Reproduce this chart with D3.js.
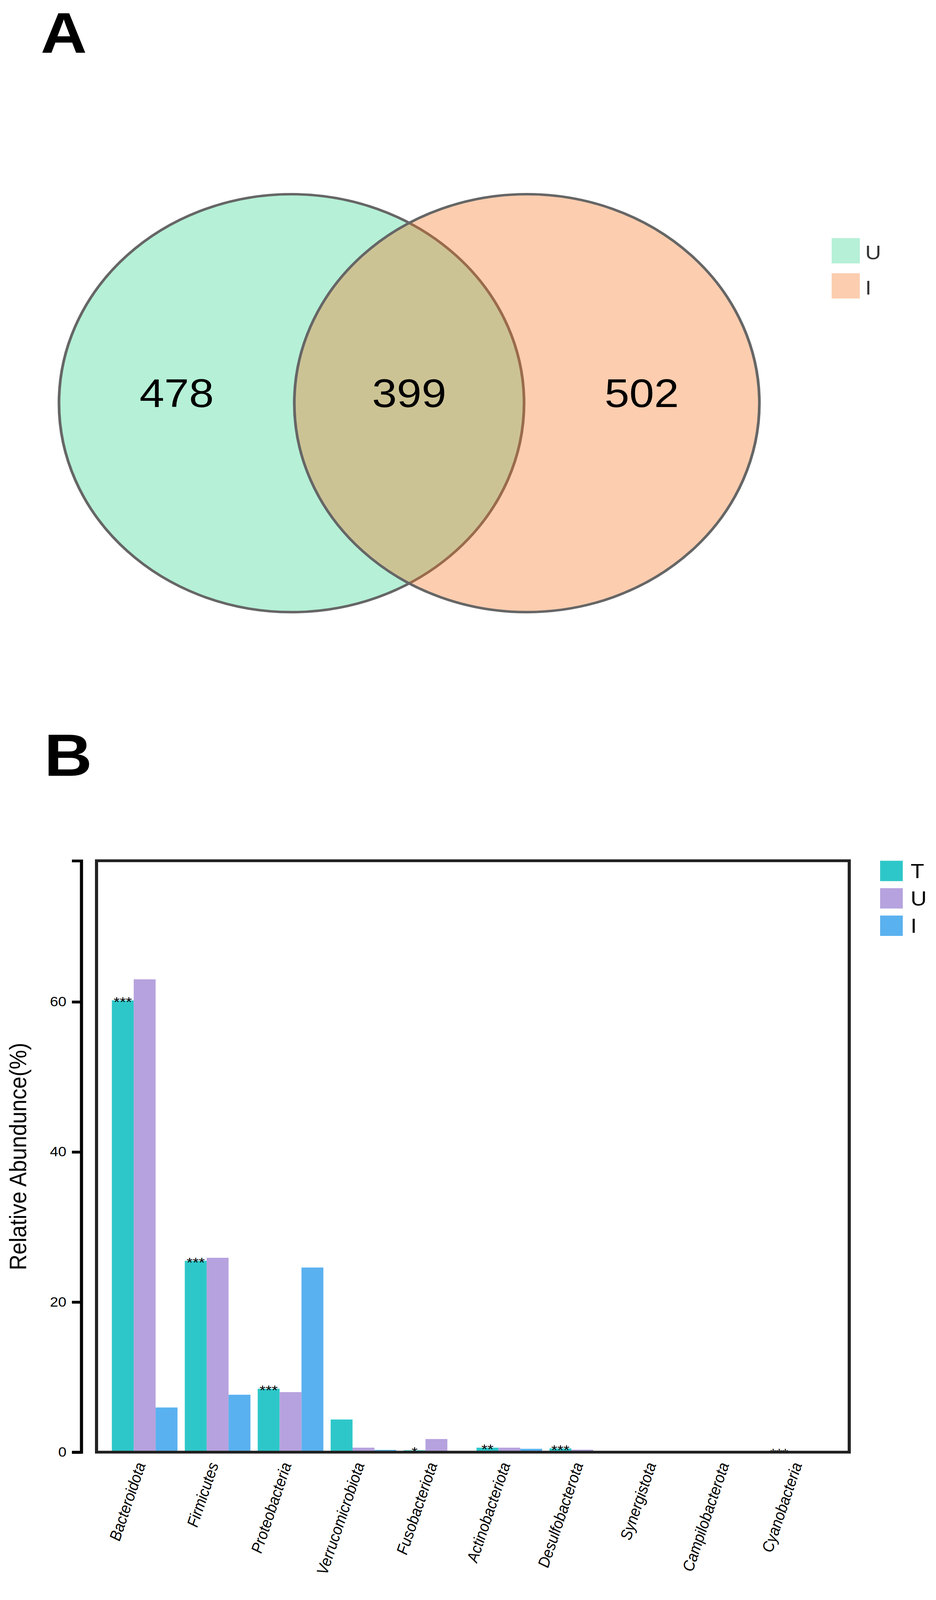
<!DOCTYPE html>
<html>
<head>
<meta charset="utf-8">
<script src="https://cdn.jsdelivr.net/npm/d3@7"></script>
<style>
  html, body { margin: 0; padding: 0; background: #fff; overflow: hidden; }
  svg { display: block; width: 100vw; height: 100vh; font-family: "Liberation Sans", Arial, sans-serif; }
</style>
</head>
<body>
<svg id="fig" viewBox="0 0 2395 4556" preserveAspectRatio="none"></svg>
<script>
// ---- panel A data
const vennSets = ["U", "I"];
const vennCounts = [478, 399, 502];   // only U, shared, only I
const vennColors = ["#b5f0d7", "#f77521"];

// ---- panel B data
const phyla = ["Bacteroidota", "Firmicutes", "Proteobacteria", "Verrucomicrobiota",
  "Fusobacteriota", "Actinobacteriota", "Desulfobacterota", "Synergistota",
  "Campilobacterota", "Cyanobacteria"];
const groups = ["T", "U", "I"];
const valT = [60.2, 25.5, 8.45, 4.35, 0.25, 0.6, 0.5, 0.12, 0.03, 0.02];
const valU = [63.0, 25.9, 8.0, 0.6, 1.75, 0.6, 0.33, 0.05, 0.02, 0.01];
const valI = [5.95, 7.65, 24.6, 0.3, 0.03, 0.45, 0.1, 0.04, 0.02, 0.01];
const sigT = ["***", "***", "***", "", "*", "**", "***", "", "", "***"];
const yTicks = [0, 20, 40, 60];
const barColors = ["#2ec7c9", "#b6a2de", "#5ab1ef"];

// the window can come out shorter than the figure, so the svg works in
// figure units and is stretched onto whatever viewport there is
const svg = d3.select("#fig");

// ================= A: venn
svg.append("text")
  .attr("x", 104).attr("y", 150)
  .attr("font-size", 164).attr("font-weight", "bold")
  .text("A");

const r = 595;
const vx = d3.scaleLinear([-1, 1], [1047 - r, 1047 + r]);
const vcy = 1148;
const half = 0.506;
const centers = [-half, half];

svg.selectAll(".venn")
  .data(vennSets)
  .enter()
  .append("circle")
  .attr("class", "venn")
  .attr("cx", (d, i) => vx(centers[i]))
  .attr("cy", vcy)
  .attr("r", vx(1) - vx(0))
  .attr("fill", (d, i) => vennColors[i])
  .attr("fill-opacity", (d, i) => i === 0 ? 1 : 0.36)
  .attr("stroke", "#666")
  .attr("stroke-width", 7);

// label spots: middle of each region along the centre line
const labelPos = [
  ((centers[0] - 1) + (centers[1] - 1)) / 2,
  0,
  ((centers[0] + 1) + (centers[1] + 1)) / 2
];
svg.selectAll(".vcount")
  .data(vennCounts)
  .enter()
  .append("text")
  .attr("class", "vcount")
  .attr("x", (d, i) => vx(labelPos[i]))
  .attr("y", 1159)
  .attr("text-anchor", "middle")
  .attr("font-size", 114)
  .attr("fill", "#000")
  .text(d => d);

const vleg = svg.append("g").attr("transform", "translate(2128, 678)");
vennSets.forEach((s, i) => {
  vleg.append("rect")
    .attr("x", 0).attr("y", i * 100)
    .attr("width", 72).attr("height", 72)
    .attr("fill", vennColors[i])
    .attr("fill-opacity", i === 0 ? 1 : 0.36);
  vleg.append("text")
    .attr("x", 86).attr("y", i * 100 + 61)
    .attr("font-size", 56)
    .attr("fill", "#333")
    .text(s);
});

// ================= B: bars
svg.append("text")
  .attr("x", 113).attr("y", 2209)
  .attr("font-size", 170).attr("font-weight", "bold")
  .text("B");

const pLeft = 247, pRight = 2173, pTop = 2451, pBottom = 4135;

const x = d3.scaleBand()
  .domain(phyla)
  .range([pLeft, pRight])
  .paddingInner(0.1)
  .paddingOuter(0.21);
const xs = d3.scaleBand()
  .domain(groups)
  .range([0, x.bandwidth()]);
const y = d3.scaleLinear([0, 78.8], [pBottom, pTop]);

const series = [valT, valU, valI];
const rows = [];
phyla.forEach((p, i) => {
  groups.forEach((g, j) => rows.push({ phylum: p, group: g, value: series[j][i], k: j }));
});

svg.selectAll(".bar")
  .data(rows)
  .enter()
  .append("rect")
  .attr("class", "bar")
  .attr("x", d => x(d.phylum) + xs(d.group))
  .attr("width", xs.bandwidth())
  .attr("y", d => y(d.value))
  .attr("height", d => y(0) - y(d.value))
  .attr("fill", d => barColors[d.k]);

svg.selectAll(".sig")
  .data(phyla)
  .enter()
  .append("text")
  .attr("class", "sig")
  .attr("x", d => x(d) + xs("T") + xs.bandwidth() / 2)
  .attr("y", (d, i) => y(valT[i]) + 18)
  .attr("text-anchor", "middle")
  .attr("font-size", 40)
  .text((d, i) => sigT[i]);

// frame
svg.append("rect")
  .attr("x", pLeft).attr("y", pTop)
  .attr("width", pRight - pLeft).attr("height", pBottom - pTop)
  .attr("fill", "none")
  .attr("stroke", "#222")
  .attr("stroke-width", 8);

// y axis, detached to the left
const yAxis = svg.append("g")
  .attr("transform", "translate(208, 0)")
  .call(d3.axisLeft(y).tickValues(yTicks).tickSize(24).tickSizeOuter(24).tickPadding(14));
yAxis.select(".domain").attr("stroke", "#000").attr("stroke-width", 8);
yAxis.selectAll(".tick line").attr("stroke", "#000").attr("stroke-width", 8);
yAxis.selectAll(".tick text")
  .attr("font-size", 38)
  .attr("font-family", "'Liberation Sans', Arial, sans-serif")
  .attr("fill", "#000");

svg.append("text")
  .attr("transform", `translate(67, ${(pTop + pBottom) / 2}) rotate(-90)`)
  .attr("text-anchor", "middle")
  .attr("font-size", 62)
  .text("Relative Abundunce(%)");

// x labels
svg.selectAll(".xlab")
  .data(phyla)
  .enter()
  .append("text")
  .attr("class", "xlab")
  .attr("transform", d => `translate(${x(d) + x.bandwidth() / 2 + 3}, 4170) rotate(-73)`)
  .attr("text-anchor", "end")
  .attr("font-size", 41)
  .attr("font-style", "italic")
  .text(d => d);

// legend
const bleg = svg.append("g").attr("transform", "translate(2252, 2451)");
groups.forEach((g, i) => {
  bleg.append("rect")
    .attr("x", 0).attr("y", i * 78)
    .attr("width", 58).attr("height", 58)
    .attr("fill", barColors[i]);
  bleg.append("text")
    .attr("x", 78).attr("y", i * 78 + 49)
    .attr("font-size", 57)
    .text(g);
});
</script>
</body>
</html>
